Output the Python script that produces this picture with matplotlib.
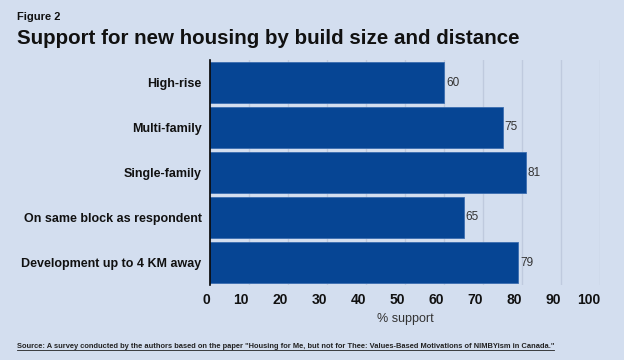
import matplotlib
matplotlib.use("Agg")
import matplotlib.pyplot as plt
from matplotlib.lines import Line2D

categories = ["High-rise", "Multi-family", "Single-family",
              "On same block as respondent", "Development up to 4 KM away"]
values = [60, 75, 81, 65, 79]
xticks = [0, 10, 20, 30, 40, 50, 60, 70, 80, 90, 100]

plt.rcParams['font.family'] = ['Liberation Sans', 'DejaVu Sans']
bg = '#d3deef'
bar_color = '#064594'

fig = plt.figure(figsize=(6.24, 3.6), dpi=100, facecolor=bg)
ax = fig.add_axes([210/624, 1-285/360, 390/624, 225/360])
ax.set_facecolor(bg)

y = list(range(len(categories)))
ax.barh(y, values, height=0.9, color=bar_color, edgecolor='#3a6db0', linewidth=0.6, zorder=3)
for yi, v in zip(y, values):
    ax.text(v + 0.5, yi, str(v), va='center', ha='left', fontsize=8.5, color='#333333', zorder=4)

ax.set_xlim(0, 100)
ax.set_ylim(len(categories) - 0.5, -0.5)
ax.set_yticks(y)
ax.set_yticklabels(categories, fontsize=9, fontweight='bold', color='#111111')
ax.set_xticks(xticks)
ax.set_xticklabels([str(t) for t in xticks], fontsize=10, fontweight='bold', color='#111111')
for lbl in ax.get_xticklabels():
    lbl.set_ha('right')
ax.tick_params(axis='x', length=0, pad=6)
ax.tick_params(axis='y', length=0, pad=6)
ax.grid(axis='x', color='#bfcade', linewidth=1, zorder=0)
for s in ['top', 'right', 'bottom']:
    ax.spines[s].set_visible(False)
ax.spines['left'].set_color('black')
ax.spines['left'].set_linewidth(1.2)
ax.spines['left'].set_zorder(5)

ax.set_xlabel("% support", fontsize=9, color='#333333', labelpad=4)

fig.text(17/624, 1-17/360, "Figure 2", fontsize=8, fontweight='bold', va='center', ha='left', color='#111111')
fig.text(17/624, 1-38/360, "Support for new housing by build size and distance",
         fontsize=14.8, fontweight='bold', va='center', ha='left', color='#111111')
src = fig.text(17/624, 1-347/360,
               'Source: A survey conducted by the authors based on the paper "Housing for Me, but not for Thee: Values-Based Motivations of NIMBYism in Canada."',
               fontsize=5.4, fontweight='bold', va='center', ha='left', color='#222222')
fig.canvas.draw()
bb = src.get_window_extent().transformed(fig.transFigure.inverted())
fig.add_artist(Line2D([bb.x0, bb.x1], [bb.y0 + 0.001, bb.y0 + 0.001], transform=fig.transFigure,
                      color='#222222', linewidth=0.6))

fig.savefig("out.png", dpi=100, facecolor=bg)
